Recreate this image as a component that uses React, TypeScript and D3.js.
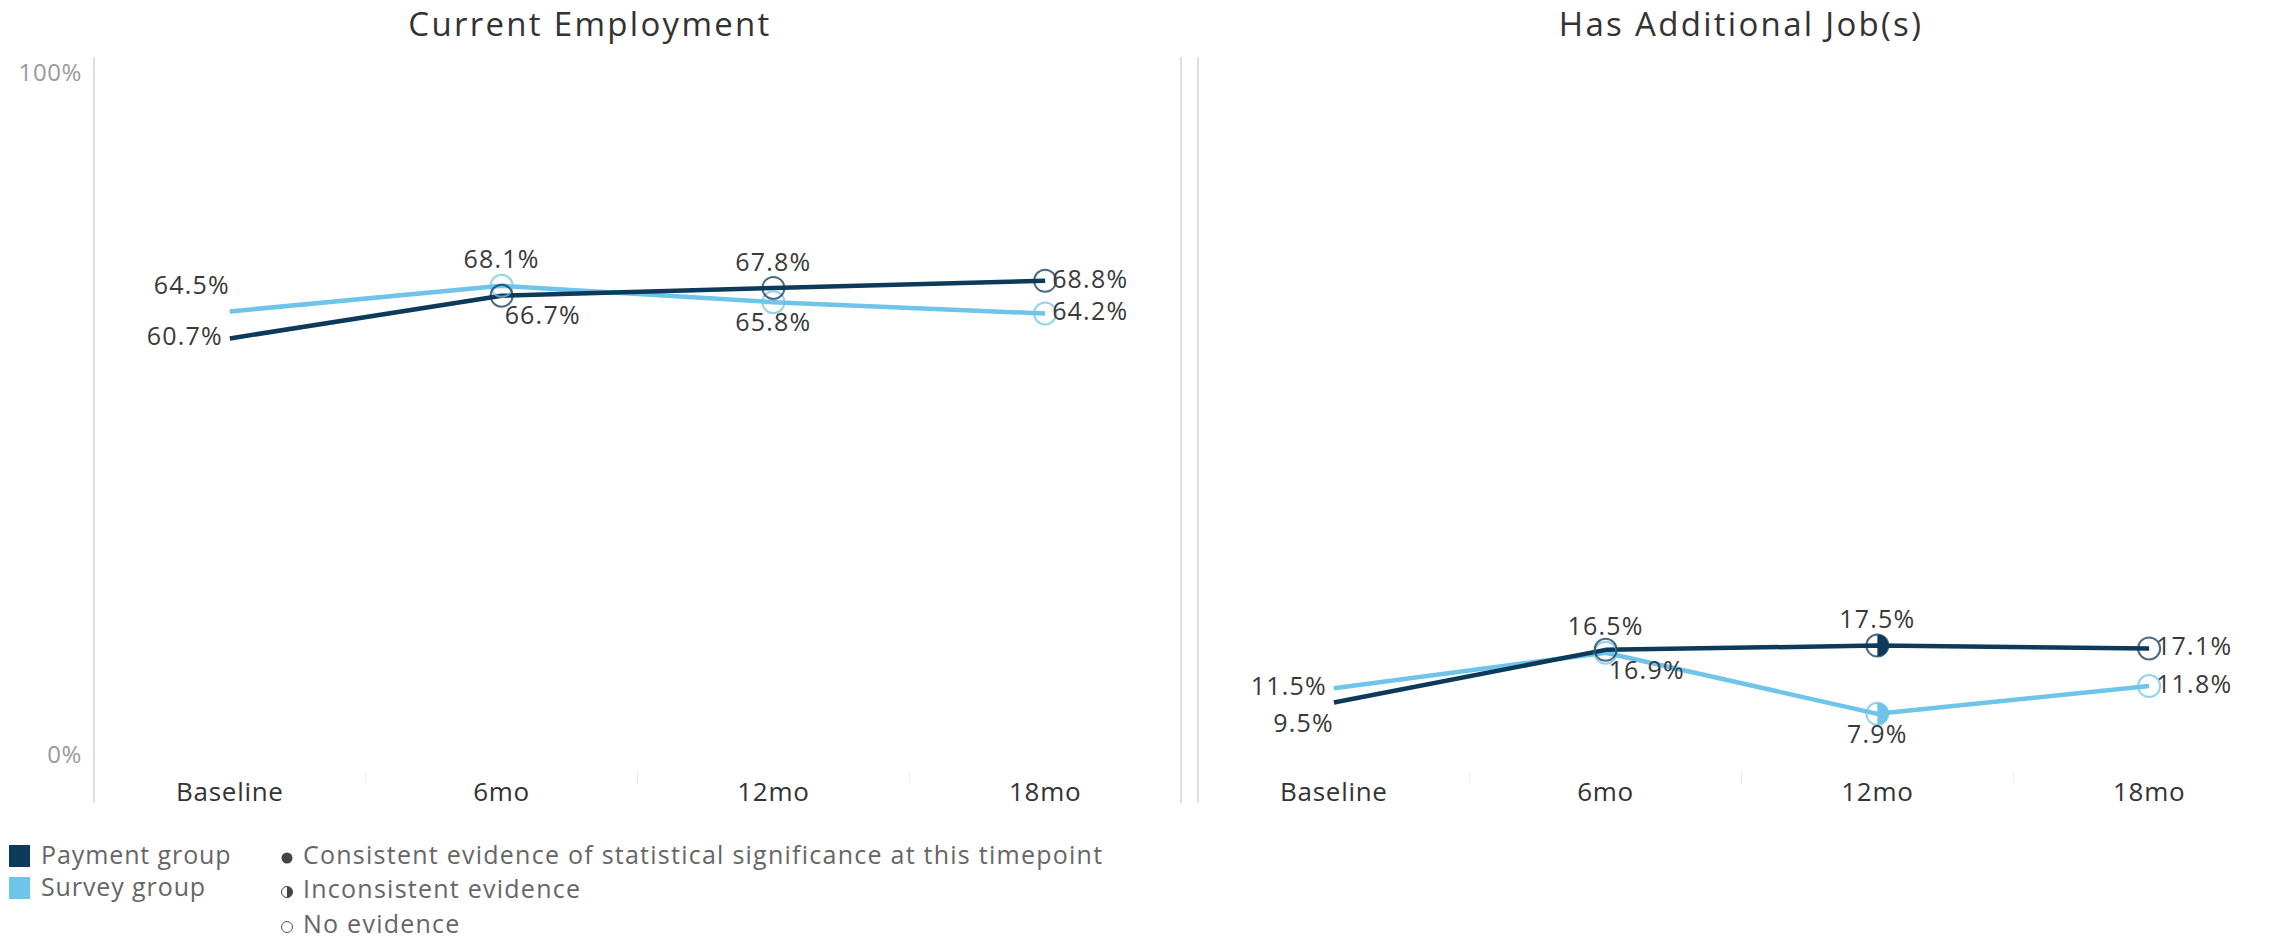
import React from 'react';
import * as d3 from 'd3';

// ---------- data ----------
const timepoints = ['Baseline', '6mo', '12mo', '18mo'];
const panelTitles = ['Current Employment', 'Has Additional Job(s)'];
const yTickLabels = ['0%', '100%'];
const yTickValues = [0, 100];

const employmentPayment = [60.7, 66.7, 67.8, 68.8];
const employmentSurvey = [64.5, 68.1, 65.8, 64.2];
const additionalJobPayment = [9.5, 16.9, 17.5, 17.1];
const additionalJobSurvey = [11.5, 16.5, 7.9, 11.8];

// significance marker per timepoint: '' = no marker, 'none' = open, 'inconsistent' = half, 'consistent' = full
const employmentSigPayment = ['', 'none', 'none', 'none'];
const employmentSigSurvey = ['', 'none', 'none', 'none'];
const additionalJobSigPayment = ['', 'none', 'inconsistent', 'none'];
const additionalJobSigSurvey = ['', 'none', 'inconsistent', 'none'];

// label placement per point
const employmentLabelPayment = ['left', 'belowRight', 'above', 'right'];
const employmentLabelSurvey = ['aboveLeft', 'above', 'below', 'right'];
const additionalJobLabelPayment = ['belowLeft', 'belowRight', 'above', 'right'];
const additionalJobLabelSurvey = ['left', 'above', 'below', 'right'];

const seriesNames = ['Payment group', 'Survey group'];
const legendSigLabels = [
  'Consistent evidence of statistical significance at this timepoint',
  'Inconsistent evidence',
  'No evidence',
];

// ---------- style ----------
const W = 2285;
const H = 940;
const DARK = '#0d3a5a';
const LIGHT = '#6ec4e9';
const FONT = "'Segoe UI', 'Open Sans', sans-serif";

const yScale = d3.scaleLinear().domain([0, 100]).range([770, 59]);

const panels = [
  {
    title: panelTitles[0],
    x0: 94,
    x1: 1181,
    titleX: 590,
    showY: true,
    series: [
      { name: seriesNames[1], color: LIGHT, values: employmentSurvey, sig: employmentSigSurvey, labels: employmentLabelSurvey },
      { name: seriesNames[0], color: DARK, values: employmentPayment, sig: employmentSigPayment, labels: employmentLabelPayment },
    ],
  },
  {
    title: panelTitles[1],
    x0: 1198,
    x1: 2285,
    titleX: 1741,
    showY: false,
    series: [
      { name: seriesNames[1], color: LIGHT, values: additionalJobSurvey, sig: additionalJobSigSurvey, labels: additionalJobLabelSurvey },
      { name: seriesNames[0], color: DARK, values: additionalJobPayment, sig: additionalJobSigPayment, labels: additionalJobLabelPayment },
    ],
  },
];

function labelPos(p: string, x: number, y: number) {
  switch (p) {
    case 'left':
      return { x: x - 7, y, anchor: 'end' };
    case 'right':
      return { x: x + 7, y, anchor: 'start' };
    case 'above':
      return { x, y: y - 24, anchor: 'middle' };
    case 'below':
      return { x, y: y + 22, anchor: 'middle' };
    case 'aboveLeft':
      return { x: x, y: y - 24, anchor: 'end' };
    case 'belowLeft':
      return { x: x, y: y + 23, anchor: 'end' };
    case 'belowRight':
      return { x: x + 3, y: y + 22, anchor: 'start' };
    default:
      return { x, y, anchor: 'middle' };
  }
}

function Marker({ x, y, kind, color }: { x: number; y: number; kind: string; color: string }) {
  const r = 11;
  if (!kind) return null;
  const right = `M${x},${y - r} A${r},${r} 0 0 1 ${x},${y + r} Z`;
  return (
    <g>
      {kind === 'consistent' && <circle cx={x} cy={y} r={r} fill={color} />}
      {kind === 'inconsistent' && <path d={right} fill={color} />}
      <circle cx={x} cy={y} r={r} fill="none" stroke={color} strokeOpacity={0.75} strokeWidth={2} />
    </g>
  );
}

function Panel({ panel }: { panel: (typeof panels)[number] }) {
  const x = d3.scaleBand<string>().domain(timepoints).range([panel.x0, panel.x1]).padding(0);
  const cx = (t: string) => (x(t) as number) + x.bandwidth() / 2;
  const line = d3
    .line<number>()
    .x((_, i) => cx(timepoints[i]))
    .y((v) => yScale(v));
  const y0 = yScale(0);
  return (
    <g>
      <text
        x={panel.titleX}
        y={36}
        textAnchor="middle"
        fontSize={33}
        letterSpacing={2.3}
        fill="#333"
      >
        {panel.title}
      </text>
      <line x1={panel.x0} x2={panel.x0} y1={57} y2={803} stroke="#d4d4d4" strokeWidth={1.5} />
      {panel.showY && (
        <line x1={panel.x1} x2={panel.x1} y1={57} y2={803} stroke="#d4d4d4" strokeWidth={1.5} />
      )}
      {panel.showY &&
        yTickValues.map((v, i) => (
          <text
            key={v}
            x={82}
            y={v === 0 ? yScale(v) - 13 : yScale(v) + 16}
            textAnchor="end"
            dominantBaseline="middle"
            fontSize={24}
            letterSpacing={0.6}
            fill="#9a9a9a"
          >
            {yTickLabels[i]}
          </text>
        ))}
      {timepoints.slice(1).map((t) => (
        <line key={t} x1={x(t)} x2={x(t)} y1={y0 + 2} y2={y0 + 14} stroke="#ececec" strokeWidth={1} />
      ))}
      {timepoints.map((t) => (
        <text
          key={t}
          x={cx(t)}
          y={794}
          textAnchor="middle"
          dominantBaseline="middle"
          fontSize={26}
          letterSpacing={0.7}
          fill="#333"
        >
          {t}
        </text>
      ))}
      {panel.series.map((s) => (
        <path key={s.name} d={line(s.values) || ''} fill="none" stroke={s.color} strokeWidth={4.5} strokeLinejoin="round" />
      ))}
      {panel.series.map((s) => (
        <g key={s.name + 'm'}>
          {s.values.map((v, i) => (
            <Marker key={i} x={cx(timepoints[i])} y={yScale(v)} kind={s.sig[i]} color={s.color} />
          ))}
        </g>
      ))}
      {panel.series.map((s) => (
        <g key={s.name + 'l'}>
          {s.values.map((v, i) => {
            const p = labelPos(s.labels[i], cx(timepoints[i]), yScale(v));
            return (
              <text
                key={i}
                x={p.x}
                y={p.y}
                textAnchor={p.anchor as any}
                dominantBaseline="middle"
                fontSize={25}
                letterSpacing={1.2}
                fill="#3a3a3a"
              >
                {v.toFixed(1) + '%'}
              </text>
            );
          })}
        </g>
      ))}
    </g>
  );
}

function Legend() {
  const colors = [DARK, LIGHT];
  const rowsY = [857, 891, 926];
  return (
    <g fontSize={25} letterSpacing={1.25} fill="#666">
      {seriesNames.map((n, i) => (
        <g key={n}>
          <rect x={9} y={[856, 888][i] - 11} width={21} height={22} fill={colors[i]} />
          <text x={41} y={[857, 889][i]} dominantBaseline="middle" letterSpacing={0.9}>
            {n}
          </text>
        </g>
      ))}
      {legendSigLabels.map((l, i) => {
        const sx = 287;
        const sy = rowsY[i] + 1;
        const r = 5.5;
        return (
          <g key={l}>
            {i === 0 && <circle cx={sx} cy={sy} r={r} fill="#444" />}
            {i === 1 && (
              <>
                <circle cx={sx} cy={sy} r={r} fill="none" stroke="#444" strokeWidth={1} />
                <path d={`M${sx},${sy - r} A${r},${r} 0 0 1 ${sx},${sy + r} Z`} fill="#444" />
              </>
            )}
            {i === 2 && <circle cx={sx} cy={sy} r={r} fill="none" stroke="#555" strokeWidth={1} />}
            <text x={303} y={rowsY[i]} dominantBaseline="middle">
              {l}
            </text>
          </g>
        );
      })}
    </g>
  );
}

export default function App() {
  return (
    <svg
      width={W}
      height={H}
      viewBox={`0 0 ${W} ${H}`}
      style={{ position: 'absolute', left: 0, top: 0, display: 'block', background: '#fff' }}
      fontFamily={FONT}
    >
      {panels.map((p) => (
        <Panel key={p.title} panel={p} />
      ))}
      <Legend />
    </svg>
  );
}
